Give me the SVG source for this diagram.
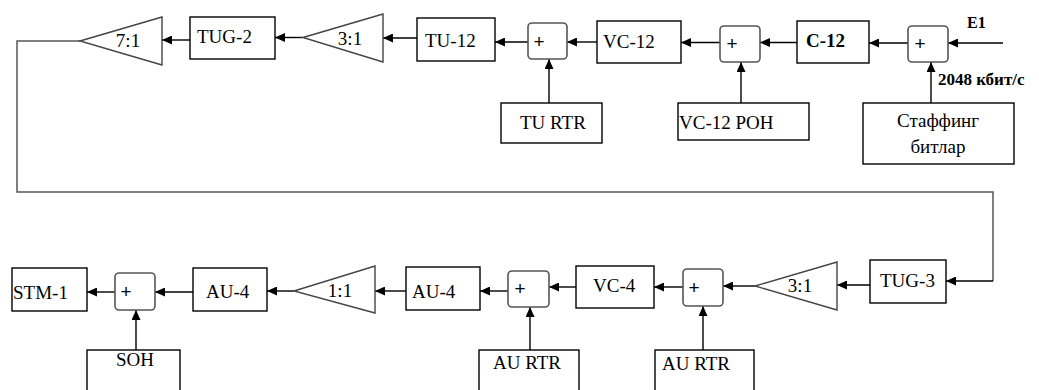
<svg xmlns="http://www.w3.org/2000/svg" width="1039" height="390" viewBox="0 0 1039 390">
<defs>
<marker id="ah" markerUnits="userSpaceOnUse" markerWidth="10" markerHeight="9" refX="10" refY="4.5" orient="auto">
<path d="M0,0 L10,4.5 L0,9 z" fill="#000"/>
</marker>
</defs>
<style>
.box{fill:#fff;stroke:#000;stroke-width:1.4}
.plus{fill:#fff;stroke:#555;stroke-width:1.6}
.tri{fill:#fff;stroke:#444;stroke-width:1.4}
.t{font-family:"Liberation Serif","Times New Roman",serif;font-size:19px;fill:#000}
.b{font-family:"Liberation Serif","Times New Roman",serif;font-weight:bold;fill:#000}
.p{font-family:"Liberation Sans",Arial,sans-serif;font-size:19px;fill:#000}
.c{fill:none;stroke:#000;stroke-width:1.4}
.loop{fill:none;stroke:#555;stroke-width:1.5}
</style>
<rect width="1039" height="390" fill="#fff"/>
<g id="connectors">
<polyline class="loop" points="80,41 17,41 17,192 993,192 993,281"/>
<line class="c" x1="993" y1="281" x2="946" y2="281" marker-end="url(#ah)"/>
<line class="c" x1="190" y1="40" x2="162" y2="40" marker-end="url(#ah)"/>
<line class="c" x1="303" y1="37.5" x2="275" y2="37.5" marker-end="url(#ah)"/>
<line class="c" x1="417" y1="38" x2="383" y2="38" marker-end="url(#ah)"/>
<line class="c" x1="528" y1="42" x2="495" y2="42" marker-end="url(#ah)"/>
<line class="c" x1="597" y1="42" x2="567" y2="42" marker-end="url(#ah)"/>
<line class="c" x1="720" y1="42.5" x2="681" y2="42.5" marker-end="url(#ah)"/>
<line class="c" x1="797" y1="42.5" x2="760" y2="42.5" marker-end="url(#ah)"/>
<line class="c" x1="908" y1="43" x2="869" y2="43" marker-end="url(#ah)"/>
<line class="c" x1="1003" y1="43" x2="948" y2="43" marker-end="url(#ah)"/>
<line class="c" x1="549" y1="103" x2="549" y2="59" marker-end="url(#ah)"/>
<line class="c" x1="741" y1="103" x2="741" y2="62" marker-end="url(#ah)"/>
<line class="c" x1="931" y1="103" x2="931" y2="62" marker-end="url(#ah)"/>
<line class="c" x1="870" y1="285" x2="837" y2="285" marker-end="url(#ah)"/>
<line class="c" x1="755" y1="286" x2="723" y2="286" marker-end="url(#ah)"/>
<line class="c" x1="683" y1="287" x2="654" y2="287" marker-end="url(#ah)"/>
<line class="c" x1="576" y1="287" x2="549" y2="287" marker-end="url(#ah)"/>
<line class="c" x1="508" y1="291" x2="480" y2="291" marker-end="url(#ah)"/>
<line class="c" x1="406" y1="291" x2="375" y2="291" marker-end="url(#ah)"/>
<line class="c" x1="294" y1="291" x2="267" y2="291" marker-end="url(#ah)"/>
<line class="c" x1="193" y1="292" x2="155" y2="292" marker-end="url(#ah)"/>
<line class="c" x1="115" y1="292" x2="87" y2="292" marker-end="url(#ah)"/>
<line class="c" x1="136" y1="350" x2="136" y2="310" marker-end="url(#ah)"/>
<line class="c" x1="530" y1="350" x2="530" y2="307" marker-end="url(#ah)"/>
<line class="c" x1="703" y1="350" x2="703" y2="306" marker-end="url(#ah)"/>
</g>
<g id="mux71"><polygon class="tri" points="80,41 162,17 162,65"/><text class="t" x="128" y="47" text-anchor="middle">7:1</text></g>
<g id="tug2"><rect class="box" x="190" y="17" width="85" height="42"/><text class="t" x="197" y="43">TUG-2</text></g>
<g id="mux31a"><polygon class="tri" points="303,37.5 383,14 383,62"/><text class="t" x="350" y="45" text-anchor="middle">3:1</text></g>
<g id="tu12"><rect class="box" x="417" y="18" width="78" height="43"/><text class="t" x="425" y="47">TU-12</text></g>
<g id="plus1"><rect class="plus" x="528" y="23" width="39" height="36" rx="4"/><text class="p" x="539" y="48" text-anchor="middle">+</text></g>
<g id="vc12"><rect class="box" x="597" y="21" width="84" height="42"/><text class="t" x="603" y="48">VC-12</text></g>
<g id="plus2"><rect class="plus" x="720" y="26" width="40" height="36" rx="4"/><text class="p" x="732" y="50" text-anchor="middle">+</text></g>
<g id="c12"><rect class="box" x="797" y="21" width="72" height="42"/><text class="b" x="806" y="47" font-size="19">C-12</text></g>
<g id="plus3"><rect class="plus" x="908" y="26" width="40" height="36" rx="4"/><text class="p" x="920" y="50" text-anchor="middle">+</text></g>
<g id="e1"><text class="b" x="967" y="28" font-size="16">E1</text></g>
<g id="rate"><text class="b" x="938" y="85" font-size="17">2048 кбит/с</text></g>
<g id="turtr"><rect class="box" x="501" y="103" width="101" height="40"/><text class="t" x="520" y="129">TU RTR</text></g>
<g id="vc12poh"><rect class="box" x="678" y="103" width="131" height="37"/><text class="t" x="679" y="129">VC-12 POH</text></g>
<g id="stuff"><rect class="box" x="863" y="103" width="151" height="61"/><text class="t" x="938" y="127" text-anchor="middle">Стаффинг</text><text class="t" x="938" y="153" text-anchor="middle" font-size="17">битлар</text></g>
<g id="tug3"><rect class="box" x="870" y="260" width="76" height="43"/><text class="t" x="880" y="287">TUG-3</text></g>
<g id="mux31b"><polygon class="tri" points="755,286 837,262 837,310"/><text class="t" x="800" y="292" text-anchor="middle">3:1</text></g>
<g id="plus4"><rect class="plus" x="683" y="269" width="40" height="37" rx="4"/><text class="p" x="694" y="294" text-anchor="middle">+</text></g>
<g id="vc4"><rect class="box" x="576" y="266" width="78" height="42"/><text class="t" x="593" y="292">VC-4</text></g>
<g id="plus5"><rect class="plus" x="508" y="271" width="41" height="36" rx="4"/><text class="p" x="520" y="295" text-anchor="middle">+</text></g>
<g id="au4b"><rect class="box" x="406" y="267" width="74" height="43"/><text class="t" x="412" y="298" font-size="23">AU-4</text></g>
<g id="mux11"><polygon class="tri" points="294,291 375,266 375,313"/><text class="t" x="340" y="297" text-anchor="middle">1:1</text></g>
<g id="au4a"><rect class="box" x="193" y="268" width="74" height="43"/><text class="t" x="206" y="298">AU-4</text></g>
<g id="plus6"><rect class="plus" x="115" y="273" width="40" height="37" rx="4"/><text class="p" x="126" y="298" text-anchor="middle">+</text></g>
<g id="stm1"><rect class="box" x="12" y="268" width="75" height="43"/><text class="t" x="13" y="299">STM-1</text></g>
<g id="soh"><rect class="box" x="87" y="350" width="93" height="50"/><text class="t" x="135" y="366" text-anchor="middle">SOH</text></g>
<g id="aurtr1"><rect class="box" x="479" y="350" width="100" height="50"/><text class="t" x="493" y="369">AU RTR</text></g>
<g id="aurtr2"><rect class="box" x="655" y="350" width="99" height="50"/><text class="t" x="662" y="370" font-size="21">AU RTR</text></g>
</svg>
